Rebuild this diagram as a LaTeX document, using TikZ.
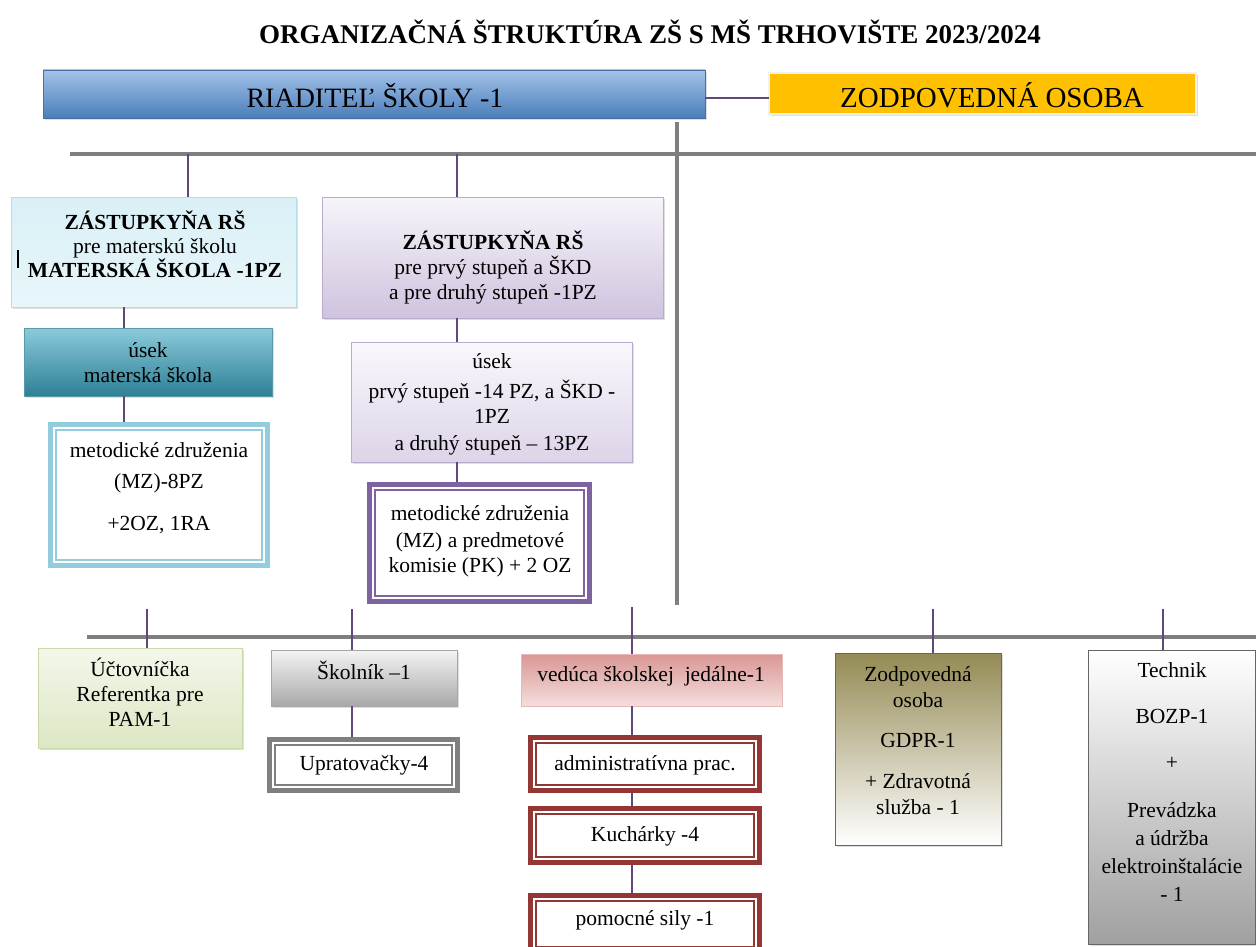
\documentclass[tikz,border=0pt]{standalone}
\usepackage{fontspec}
\setmainfont{Liberation Serif}
\usetikzlibrary{shadows,calc}
\definecolor{connc}{HTML}{5F497A}
\definecolor{greyl}{HTML}{7F7F7F}
\definecolor{rstop}{HTML}{A4C2E8}
\definecolor{rsbot}{HTML}{4A7EBB}
\definecolor{rsdraw}{HTML}{4A6FA5}
\definecolor{orange}{HTML}{FFC000}
\definecolor{zltop}{HTML}{D9F0F6}
\definecolor{zlbot}{HTML}{E8F6FA}
\definecolor{zldraw}{HTML}{B7DDE8}
\definecolor{umtop}{HTML}{8ACBDB}
\definecolor{umbot}{HTML}{2E7F95}
\definecolor{mmdraw}{HTML}{93CDDD}
\definecolor{zmtop}{HTML}{F7F4FA}
\definecolor{zmbot}{HTML}{CFC3DE}
\definecolor{zmdraw}{HTML}{B9ABCD}
\definecolor{u2top}{HTML}{FAF8FC}
\definecolor{u2bot}{HTML}{DDD4E8}
\definecolor{mzdraw}{HTML}{7E63A1}
\definecolor{uctop}{HTML}{F3F7EA}
\definecolor{ucbot}{HTML}{DCE7C4}
\definecolor{ucdraw}{HTML}{C9DAA6}
\definecolor{sktop}{HTML}{F4F4F4}
\definecolor{skbot}{HTML}{A8A8A8}
\definecolor{vetop}{HTML}{D99694}
\definecolor{vebot}{HTML}{F4DEDD}
\definecolor{vedraw}{HTML}{E6B9B8}
\definecolor{reddraw}{HTML}{943634}
\definecolor{gdtop}{HTML}{948A54}
\definecolor{gdbot}{HTML}{FFFFFF}
\definecolor{tetop}{HTML}{FFFFFF}
\definecolor{tebot}{HTML}{A0A0A0}
\newcommand{\bodyf}{\fontsize{21.5}{25}\selectfont}
\begin{document}
\begin{tikzpicture}[x=1pt,y=-1pt,
  conn/.style={draw=connc, line width=1.8pt},
  gline/.style={draw=greyl, line width=3.5pt},
  sz/.style 2 args={minimum width=#1, minimum height=#2, inner sep=0pt, outer sep=0pt},
  txt/.style={font=\bodyf, align=center, inner sep=0pt, text=black},
  sh/.style={drop shadow={shadow xshift=1.5pt, shadow yshift=-2pt, opacity=0.25}},
  dbl/.style={draw=#1, line width=5pt, fill=white,
    path picture={\draw[#1, line width=1.5pt]
      ([shift={(5.5pt,-5.5pt)}]path picture bounding box.north west) rectangle
      ([shift={(-5.5pt,5.5pt)}]path picture bounding box.south east);}}
]
\useasboundingbox (0,0) rectangle (1256,947);
\fill[white] (0,0) rectangle (1256,947);

% title
\node[font=\fontsize{27}{30}\selectfont\bfseries, inner sep=0pt] (title) at (650,32) {ORGANIZAČNÁ ŠTRUKTÚRA ZŠ S MŠ TRHOVIŠTE 2023/2024};

% grey backbones
\coordinate (h1w) at (70,154); \coordinate (h1e) at (1256,154);
\coordinate (h2w) at (87,637); \coordinate (h2e) at (1256,637);
\coordinate (vt) at (677,122); \coordinate (vb) at (677,605);
\draw[gline] (h1w) -- (h1e);
\draw[gline] (h2w) -- (h2e);
\draw[gline, line width=4pt] (vt) -- (vb);

% top row
\node[sz={662pt}{48pt}, draw=rsdraw, top color=rstop, bottom color=rsbot, sh] (rs) at (374,94) {};
\node[font=\fontsize{28}{30}\selectfont, inner sep=0pt] (rs-t) at (375,96) {RIADITEĽ ŠKOLY -1};
\node[sz={427pt}{41pt}, fill=orange, draw=gray!12, line width=2pt, sh] (zo) at (982.5,93.5) {};
\node[font=\fontsize{29}{30}\selectfont, inner sep=0pt] (zo-t) at (992,95) {ZODPOVEDNÁ OSOBA};
\draw[conn] ([yshift=-4pt]rs.east) -- ([yshift=-4pt]rs.east -| zo.west);

% left column
\node[sz={285pt}{110pt}, draw=zldraw, top color=zltop, bottom color=zlbot, sh] (zl) at (153.5,252) {};
\node[txt, font=\fontsize{21.5}{24}\selectfont] (zl-t) at (155,244) {\textbf{ZÁSTUPKYŇA RŠ}\\pre materskú školu\\\textbf{MATERSKÁ ŠKOLA -1PZ}};
\draw[black, line width=1.3pt] (18,250) -- (18,268);
\node[sz={248pt}{68pt}, draw=umbot!80, top color=umtop, bottom color=umbot, sh] (um) at (148,362) {};
\node[txt] (um-t) at (148,363) {úsek\\materská škola};
\node[sz={217pt}{141pt}, dbl=mmdraw] (mm) at (159,495) {};
\node[txt] (mm-t) at (159,488) {metodické združenia\\[6pt](MZ)-8PZ\\[17pt]+2OZ, 1RA};

\coordinate (cl) at (124,0);
\draw[conn] (cl |- zl.south) -- (cl |- um.north);
\draw[conn] (cl |- um.south) -- ([yshift=2.5pt]cl |- mm.north);

% middle column
\node[sz={341pt}{121pt}, draw=zmdraw, top color=zmtop, bottom color=zmbot, sh] (zm) at (492.5,257.5) {};
\node[txt] (zm-t) at (493,267) {\textbf{ZÁSTUPKYŇA RŠ}\\pre prvý stupeň a ŠKD\\a pre druhý stupeň -1PZ};
\node[sz={281pt}{120pt}, draw=zmdraw, top color=u2top, bottom color=u2bot, sh] (u2) at (491.5,402) {};
\node[txt] (u2-t) at (492,404) {úsek\\[5pt]prvý stupeň -14 PZ, a ŠKD -\\1PZ\\[2pt]a druhý stupeň – 13PZ};
\node[sz={220pt}{117pt}, dbl=mzdraw] (mz2) at (479.5,543) {};
\node[txt] (mz2-t) at (480,541) {metodické združenia\\[2pt](MZ) a predmetové\\komisie (PK) + 2 OZ};

\coordinate (s1) at (188,154); \coordinate (s2) at (457,154);
\draw[conn] (s1) -- (s1 |- zl.north);
\draw[conn] (s2) -- (s2 |- zm.north);
\coordinate (cm) at (457,0);
\draw[conn] (cm |- zm.south) -- (cm |- u2.north);
\draw[conn] (cm |- u2.south) -- ([yshift=2.5pt]cm |- mz2.north);

% bottom row
\node[sz={204pt}{100pt}, draw=ucdraw, top color=uctop, bottom color=ucbot, sh] (uc) at (140,698) {};
\node[txt] (uc-t) at (140,692) {Účtovníčka\\Referentka pre\\PAM-1};
\node[sz={186pt}{56pt}, draw=gray!70, top color=sktop, bottom color=skbot, sh] (sk) at (364,678) {};
\node[txt] (sk-t) at (364,670) {Školník –1};
\node[sz={188pt}{51pt}, dbl=greyl] (up) at (363.5,765) {};
\node[txt] (up-t) at (364,765) {Upratovačky-4};
\node[sz={261pt}{52pt}, draw=vedraw, top color=vetop, bottom color=vebot] (ve) at (651.5,680) {};
\node[txt] (ve-t) at (651,676) {vedúca školskej\ \ jedálne-1};
\node[sz={229pt}{53pt}, dbl=reddraw] (ad) at (645,764) {};
\node[txt] (ad-t) at (645,765) {administratívna prac.};
\node[sz={229pt}{54pt}, dbl=reddraw] (ku) at (645,835.5) {};
\node[txt] (ku-t) at (645,836) {Kuchárky -4};
\node[sz={229pt}{57pt}, dbl=reddraw] (po) at (645,924) {};
\node[txt] (po-t) at (645,920) {pomocné sily -1};
\node[sz={166pt}{192pt}, draw=gray!80!black, top color=gdtop, bottom color=gdbot, sh] (gd) at (918,749) {};
\node[txt, font=\fontsize{21.5}{26}\selectfont] (gd-t) at (918,741) {Zodpovedná\\osoba\\[14pt]GDPR-1\\[15pt]+ Zdravotná\\služba - 1};
\node[sz={167pt}{294pt}, draw=gray!80!black, top color=tetop, bottom color=tebot, sh] (te) at (1171.5,797) {};
\node[txt, font=\fontsize{21.5}{28}\selectfont] (te-t) at (1172,782) {Technik\\[18pt]BOZP-1\\[18pt]+\\[20pt]Prevádzka\\a údržba\\elektroinštalácie\\- 1};

\coordinate (b1) at (147,609);
\coordinate (b2) at (352,609);
\coordinate (b3) at (632,607);
\coordinate (b4) at (933,609);
\coordinate (b5) at (1163,609);
\draw[conn] (b1) -- (b1 |- uc.north);
\draw[conn] (b2) -- (b2 |- sk.north);
\draw[conn] (b3) -- (b3 |- ve.north);
\draw[conn] (b4) -- (b4 |- gd.north);
\draw[conn] (b5) -- (b5 |- te.north);
\draw[conn] (b2 |- sk.south) -- ([yshift=2.5pt]b2 |- up.north);
\draw[conn] (b3 |- ve.south) -- ([yshift=2.5pt]b3 |- ad.north);
\draw[conn] ([yshift=-2.5pt]b3 |- ad.south) -- ([yshift=2.5pt]b3 |- ku.north);
\draw[conn] ([yshift=-2.5pt]b3 |- ku.south) -- ([yshift=2.5pt]b3 |- po.north);
\end{tikzpicture}
\end{document}
